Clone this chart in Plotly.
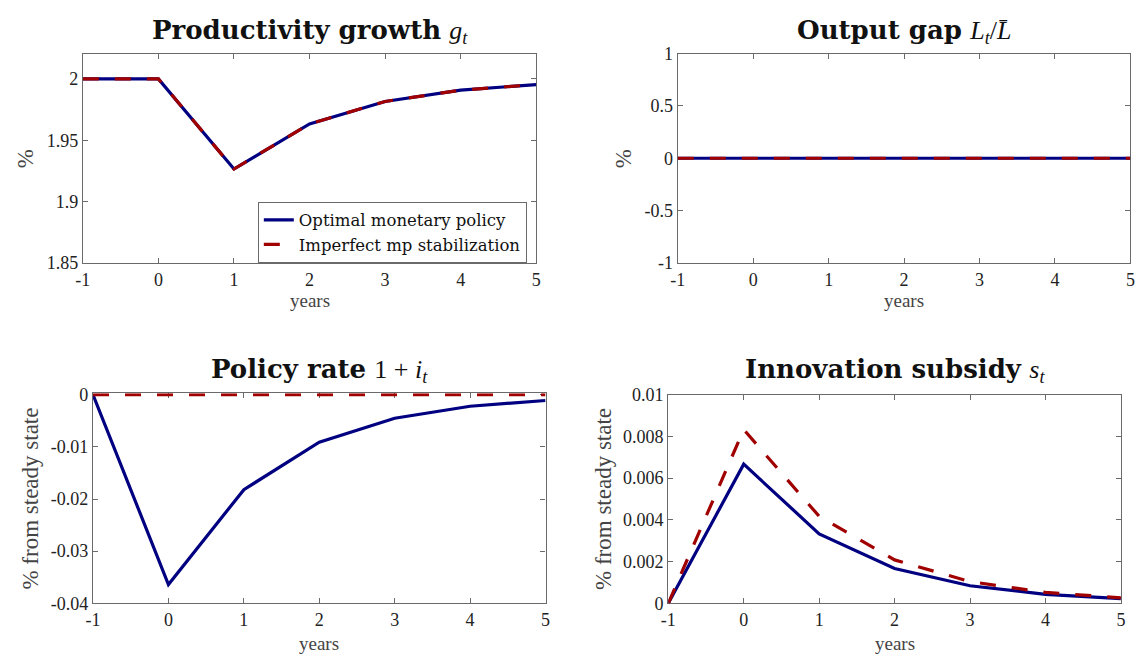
import plotly.graph_objects as go

years = [-1, 0, 1, 2, 3, 4, 5]

# Productivity growth g_t (%)
g_opt = [2.0, 2.0, 1.9265, 1.9633, 1.9816, 1.9908, 1.9954]
g_imp = [2.0, 2.0, 1.9265, 1.9633, 1.9816, 1.9908, 1.9954]

# Output gap (%)
gap_opt = [0, 0, 0, 0, 0, 0, 0]
gap_imp = [0, 0, 0, 0, 0, 0, 0]

# Policy rate (% from steady state)
i_opt = [0.0, -0.0364, -0.0182, -0.0091, -0.0045, -0.0022, -0.0011]
i_imp = [0, 0, 0, 0, 0, 0, 0]

# Innovation subsidy (% from steady state)
s_opt = [0.0, 0.00667, 0.00333, 0.00167, 0.00084, 0.00043, 0.00022]
s_imp = [0.0, 0.00833, 0.00417, 0.00208, 0.00104, 0.00052, 0.00026]

x_tickvals = [-1, 0, 1, 2, 3, 4, 5]
x_ticktext = ["-1", "0", "1", "2", "3", "4", "5"]

y1_vals = [1.85, 1.9, 1.95, 2.0]
y1_text = ["1.85", "1.9", "1.95", "2"]
y2_vals = [-1, -0.5, 0, 0.5, 1]
y2_text = ["-1", "-0.5", "0", "0.5", "1"]
y3_vals = [-0.04, -0.03, -0.02, -0.01, 0]
y3_text = ["-0.04", "-0.03", "-0.02", "-0.01", "0"]
y4_vals = [0, 0.002, 0.004, 0.006, 0.008, 0.01]
y4_text = ["0", "0.002", "0.004", "0.006", "0.008", "0.01"]

names = ["Optimal monetary policy", "Imperfect mp stabilization"]

BLUE = "#000080"
RED = "#A00000"
AX = "#6a6a6a"
FONT = "Liberation Serif"
TFONT = "DejaVu Serif"
W, H = 1142, 664

def px_x(p):
    return p / W

def px_y(p):
    return 1 - p / H

panels = [
    # (x0, x1, ytop, ybottom) in pixels
    (75.7, 534.3, 45.0, 260.7),
    (677.5, 1135.3, 45.0, 260.7),
    (86.0, 543.7, 395.1, 611.7),
    (667.9, 1125.7, 396.7, 611.7),
]
series = [(g_opt, g_imp), (gap_opt, gap_imp), (i_opt, i_imp), (s_opt, s_imp)]
yranges = [[1.85, 2.0206], [-1, 1], [-0.04, 0.0003], [0, 0.01]]
yticks = [(y1_vals, y1_text), (y2_vals, y2_text), (y3_vals, y3_text), (y4_vals, y4_text)]

fig = go.Figure()
layout = dict(
    width=W, height=H,
    margin=dict(l=0, r=0, t=0, b=0),
    paper_bgcolor="white", plot_bgcolor="white",
    font=dict(family=FONT, color="#222222", size=18),
    showlegend=True,
    legend=dict(
        x=px_x(252.7), y=px_y(197.7), xanchor="left", yanchor="top",
        bgcolor="white", bordercolor=AX, borderwidth=1,
        font=dict(family=TFONT, size=16.5, color="#111111"),
        tracegroupgap=0, itemwidth=30,
    ),
)

for k, ((x0, x1, yt, yb), (a, b), yr, (tv, tt)) in enumerate(zip(panels, series, yranges, yticks)):
    idx = "" if k == 0 else str(k + 1)
    xa = "x" + idx
    ya = "y" + idx
    fig.add_trace(go.Scatter(x=years, y=a, mode="lines", name=names[0],
                             line=dict(color=BLUE, width=3.2), xaxis=xa, yaxis=ya,
                             showlegend=(k == 0)))
    fig.add_trace(go.Scatter(x=years, y=b, mode="lines", name=names[1],
                             line=dict(color=RED, width=3.2, dash="16px,16px"), xaxis=xa, yaxis=ya,
                             showlegend=(k == 0)))
    layout["xaxis" + idx] = dict(
        domain=[px_x(x0), px_x(x1)], range=[-1, 5], anchor=ya,
        tickvals=x_tickvals, ticktext=x_ticktext,
        ticks="inside", ticklen=5, tickcolor=AX, tickwidth=1,
        showline=True, linecolor=AX, linewidth=1.2, mirror="ticks",
        showgrid=False, zeroline=False, layer="below traces",
        tickfont=dict(family=FONT, size=18, color="#222222"),
    )
    layout["yaxis" + idx] = dict(
        domain=[px_y(yb), px_y(yt)], range=yr, anchor=xa,
        tickvals=tv, ticktext=tt,
        ticks="inside", ticklen=5, tickcolor=AX, tickwidth=1,
        showline=True, linecolor=AX, linewidth=1.2, mirror="ticks",
        showgrid=False, zeroline=False, layer="below traces",
        tickfont=dict(family=FONT, size=18, color="#222222"),
    )

fig.update_layout(**layout)

M = "<span style='font-family:Liberation Serif;font-weight:normal'>"
titles = [
    ("<b>Productivity growth</b> " + M + "<i>g</i><sub><i>t</i></sub></span>", 305, 22),
    ("<b>Output gap</b> " + M + "<i>L</i><sub><i>t</i></sub>/<i>L̄</i></span>", 906, 22),
    ("<b>Policy rate</b> " + M + "1 + <i>i</i><sub><i>t</i></sub></span>", 315, 372),
    ("<b>Innovation subsidy</b> " + M + "<i>s</i><sub><i>t</i></sub></span>", 897, 372),
]
for text, cx, cy in titles:
    fig.add_annotation(text=text, x=px_x(cx), y=px_y(cy), xref="paper", yref="paper",
                       showarrow=False, xanchor="center", yanchor="middle",
                       font=dict(family=TFONT, size=26, color="#111111"))

xlabels = [(305, 300), (906, 300), (315, 653), (897, 653)]
for cx, cy in xlabels:
    fig.add_annotation(text="years", x=px_x(cx), y=px_y(cy), xref="paper", yref="paper",
                       showarrow=False, xanchor="center", yanchor="middle",
                       font=dict(family=FONT, size=19, color="#444444"))

ylabels = [("%", 18, 153), ("%", 622, 153), ("% from steady state", 23, 504), ("% from steady state", 603, 504)]
for text, cx, cy in ylabels:
    fig.add_annotation(text=text, x=px_x(cx), y=px_y(cy), xref="paper", yref="paper",
                       showarrow=False, xanchor="center", yanchor="middle", textangle=-90,
                       font=dict(family=FONT, size=23, color="#444444"))

fig.write_html("out.html", config={"displayModeBar": False},
               post_script="document.body.style.margin='0';document.body.style.overflow='hidden';")
